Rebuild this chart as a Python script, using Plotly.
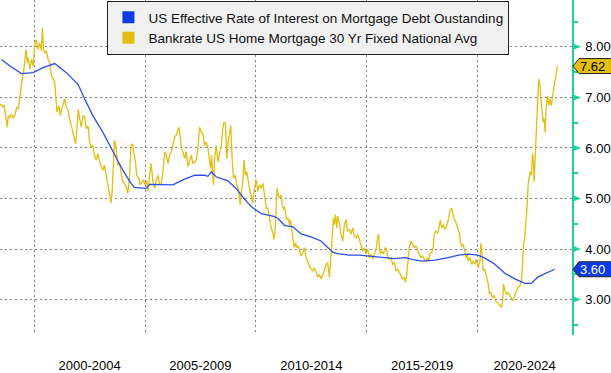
import plotly.graph_objects as go

# ---------------- data ----------------
bankrate_years = [
    1998.46, 1998.58, 1998.64, 1998.73, 1998.79, 1998.83, 1998.91, 1998.98, 1999.06, 1999.13,
    1999.21, 1999.28, 1999.36, 1999.43, 1999.48, 1999.54, 1999.63, 1999.69, 1999.73, 1999.81,
    1999.88, 1999.96, 2000.03, 2000.10, 2000.18, 2000.25, 2000.33, 2000.37, 2000.43, 2000.48,
    2000.55, 2000.63, 2000.70, 2000.78, 2000.85, 2000.93, 2000.97, 2001.03, 2001.12, 2001.18,
    2001.23, 2001.30, 2001.38, 2001.45, 2001.53, 2001.60, 2001.68, 2001.75, 2001.83, 2001.87,
    2001.93, 2001.99, 2002.05, 2002.13, 2002.20, 2002.28, 2002.35, 2002.43, 2002.50, 2002.57,
    2002.65, 2002.72, 2002.80, 2002.87, 2002.95, 2003.02, 2003.10, 2003.17, 2003.25, 2003.32,
    2003.40, 2003.47, 2003.52, 2003.58, 2003.62, 2003.67, 2003.73, 2003.77, 2003.85, 2003.92,
    2004.00, 2004.07, 2004.15, 2004.22, 2004.30, 2004.37, 2004.45, 2004.49, 2004.57, 2004.63,
    2004.72, 2004.78, 2004.87, 2004.93, 2005.01, 2005.08,
    2005.14, 2005.21, 2005.26, 2005.30, 2005.36, 2005.44, 2005.51, 2005.59, 2005.66, 2005.74,
    2005.81, 2005.89, 2005.96, 2006.04, 2006.11, 2006.19, 2006.26, 2006.34, 2006.41, 2006.49,
    2006.53, 2006.59, 2006.65, 2006.71, 2006.79, 2006.86, 2006.94, 2007.01, 2007.09, 2007.16,
    2007.24, 2007.31, 2007.39, 2007.46, 2007.54, 2007.61, 2007.69, 2007.76, 2007.84, 2007.91,
    2007.96, 2008.00, 2008.06, 2008.09, 2008.14, 2008.21, 2008.29, 2008.36, 2008.44, 2008.51,
    2008.56, 2008.63, 2008.69, 2008.75, 2008.81, 2008.87, 2008.93, 2008.99, 2009.07, 2009.14,
    2009.22, 2009.29, 2009.35, 2009.41, 2009.47, 2009.53, 2009.59, 2009.65, 2009.71, 2009.79,
    2009.86, 2009.94, 2010.02, 2010.09, 2010.17, 2010.24, 2010.32, 2010.39, 2010.47, 2010.54,
    2010.62, 2010.69, 2010.77, 2010.81, 2010.86, 2010.92, 2010.96, 2011.01, 2011.07,
    2011.11, 2011.14, 2011.19, 2011.25, 2011.29, 2011.34, 2011.40, 2011.46, 2011.52, 2011.56,
    2011.61, 2011.67, 2011.73, 2011.79, 2011.85, 2011.91, 2011.97, 2012.04, 2012.12, 2012.19,
    2012.27, 2012.34, 2012.42, 2012.49, 2012.57, 2012.64, 2012.72, 2012.79, 2012.87, 2012.94,
    2013.02, 2013.09, 2013.17, 2013.24, 2013.32, 2013.39, 2013.44, 2013.50, 2013.54, 2013.59,
    2013.65, 2013.69, 2013.77, 2013.84, 2013.92, 2013.99, 2014.07, 2014.14, 2014.22, 2014.29,
    2014.37, 2014.44, 2014.52, 2014.59, 2014.67, 2014.74, 2014.82, 2014.89, 2014.97, 2015.05,
    2015.12, 2015.20, 2015.27, 2015.35, 2015.42, 2015.50, 2015.54, 2015.57, 2015.62, 2015.68,
    2015.75, 2015.84, 2015.90, 2015.96, 2016.02, 2016.10, 2016.17, 2016.25, 2016.32, 2016.40,
    2016.47, 2016.55, 2016.62, 2016.70, 2016.74, 2016.80, 2016.86, 2016.92, 2017.00, 2017.07,
    2017.15, 2017.22, 2017.30, 2017.37, 2017.45, 2017.52, 2017.60, 2017.67, 2017.75,
    2017.78, 2017.85, 2017.93, 2018.00, 2018.05, 2018.11, 2018.20, 2018.26, 2018.32, 2018.38,
    2018.45, 2018.53, 2018.60, 2018.68, 2018.75, 2018.83, 2018.87, 2018.93, 2019.01, 2019.07,
    2019.13, 2019.19, 2019.23, 2019.28, 2019.35, 2019.43, 2019.47, 2019.53, 2019.58, 2019.65,
    2019.73, 2019.80, 2019.88, 2019.95, 2020.03, 2020.11, 2020.15, 2020.20, 2020.26, 2020.33,
    2020.41, 2020.48, 2020.53, 2020.60, 2020.66, 2020.75, 2020.81, 2020.87, 2020.93, 2021.01,
    2021.08, 2021.13, 2021.17, 2021.23, 2021.31, 2021.38, 2021.46, 2021.53, 2021.59, 2021.65,
    2021.71, 2021.77, 2021.83, 2021.91, 2021.98, 2022.03, 2022.07, 2022.13, 2022.19, 2022.25,
    2022.28, 2022.33, 2022.37, 2022.43, 2022.48, 2022.52, 2022.55, 2022.61, 2022.66, 2022.70,
    2022.76, 2022.82, 2022.87, 2022.91, 2022.96, 2023.00, 2023.05, 2023.09, 2023.15, 2023.21,
    2023.27, 2023.33, 2023.39, 2023.45, 2023.51, 2023.56, 2023.60,
]
bankrate_rates = [
    6.87, 6.82, 6.85, 6.58, 6.41, 6.64, 6.60, 6.67, 6.59, 6.64,
    6.80, 6.77, 7.07, 7.36, 7.42, 7.56, 7.95, 7.69, 7.78, 7.56,
    7.75, 7.62, 8.05, 8.14, 7.95, 8.08, 7.92, 8.37, 7.95, 7.88,
    7.92, 7.75, 7.69, 7.42, 7.39, 7.29, 7.00, 6.71, 6.84, 6.64,
    6.74, 6.87, 6.97, 6.80, 6.74, 6.58, 6.44, 6.31, 6.15, 6.08,
    6.38, 6.77, 6.58, 6.41, 6.64, 6.61, 6.38, 6.44, 6.12, 6.02,
    6.05, 5.86, 5.76, 5.89, 5.73, 5.63, 5.56, 5.66, 5.46, 5.33,
    5.14, 4.91, 5.14, 5.92, 6.15, 6.08, 5.79, 5.66, 5.69, 5.53,
    5.33, 5.30, 5.24, 5.10, 5.40, 6.05, 6.08, 5.92, 5.73, 5.46,
    5.40, 5.27, 5.33, 5.37, 5.27, 5.35,
    5.14, 5.46, 5.69, 5.59, 5.33, 5.20, 5.37, 5.46, 5.27, 5.30,
    5.53, 5.92, 5.86, 5.69, 5.86, 5.92, 6.05, 6.22, 6.25, 6.38,
    6.41, 6.22, 5.99, 5.92, 5.79, 5.92, 5.63, 5.73, 5.86, 5.69,
    5.73, 5.76, 5.99, 6.41, 6.31, 6.28, 6.05, 6.12, 5.99, 5.73,
    5.59, 5.86, 5.37, 5.27, 5.79, 6.05, 5.73, 5.86, 6.05, 6.38,
    6.51, 6.48, 5.79, 6.12, 6.25, 6.44, 5.79, 5.40, 5.46, 5.27,
    5.17, 4.88, 5.14, 5.33, 5.76, 5.46, 5.53, 5.33, 5.20, 5.07,
    4.91, 5.20, 5.37, 5.14, 5.27, 5.20, 5.30, 5.07, 4.81, 4.81,
    4.55, 4.42, 4.32, 4.19, 4.29, 4.81, 5.20, 5.07, 5.01,
    5.04, 5.07, 4.88, 4.78, 4.84, 4.75, 4.58, 4.61, 4.48, 4.58,
    4.42, 4.25, 4.03, 4.12, 4.03, 4.06, 3.96, 3.86, 3.93, 4.03,
    3.83, 3.76, 3.70, 3.60, 3.57, 3.63, 3.54, 3.44, 3.50, 3.41,
    3.50, 3.57, 3.70, 3.73, 3.44, 3.83, 4.16, 4.61, 4.48, 4.68,
    4.42, 4.65, 4.52, 4.29, 4.16, 4.48, 4.58, 4.35, 4.39, 4.29,
    4.42, 4.25, 4.22, 4.29, 4.19, 4.06, 3.96, 4.03, 3.90, 3.99,
    3.83, 3.90, 3.80, 3.90, 3.99, 4.25, 4.29, 4.03, 3.90, 3.96,
    3.90, 4.03, 3.99, 3.83, 3.80, 3.83, 3.70, 3.73, 3.57, 3.60,
    3.54, 3.50, 3.41, 3.44, 3.34, 3.47, 3.76, 4.03, 4.16, 4.09,
    4.03, 4.06, 3.96, 3.90, 3.83, 3.86, 3.80, 3.76, 3.83,
    3.76, 3.90, 3.93, 4.03, 4.29, 4.35, 4.32, 4.42, 4.58, 4.42,
    4.48, 4.39, 4.45, 4.58, 4.75, 4.81, 4.71, 4.61, 4.55, 4.45,
    4.35, 4.29, 4.12, 4.06, 4.09, 3.96, 3.83, 3.90, 3.76, 3.83,
    3.70, 3.76, 3.70, 3.80, 3.63, 3.76, 4.12, 3.93, 3.57, 3.60,
    3.44, 3.31, 3.11, 3.14, 3.05, 3.08, 2.98, 2.95, 2.92, 2.88,
    2.85, 2.98, 3.31, 3.18, 3.11, 3.14, 3.08, 3.01, 2.98, 3.05,
    3.11, 3.18, 3.24, 3.27, 3.37, 3.70, 4.09, 4.22, 4.55, 4.94,
    5.27, 5.46, 5.53, 5.46, 5.89, 5.73, 5.33, 5.92, 6.31, 6.84,
    7.36, 7.23, 6.90, 6.64, 6.51, 6.58, 6.31, 6.77, 7.03, 6.84,
    6.97, 6.84, 7.10, 7.23, 7.36, 7.49, 7.62,
]

effective_years = [
    1998.53, 1998.91, 1999.43, 1999.96, 2000.40, 2000.93, 2001.45, 2001.98, 2002.28, 2002.65,
    2003.10, 2003.40, 2003.62, 2004.00, 2004.37, 2004.52, 2005.04, 2005.21, 2006.26, 2006.71,
    2007.24, 2007.69, 2007.84, 2007.99, 2008.21, 2008.74, 2009.11, 2009.41, 2009.79, 2010.24,
    2010.77, 2010.99, 2011.29, 2011.67, 2012.04, 2012.49, 2012.94, 2013.24, 2013.47, 2013.69,
    2014.22, 2014.67, 2015.12, 2015.57, 2016.02, 2016.25, 2016.77, 2017.07, 2017.52, 2018.08,
    2018.68, 2019.13, 2019.58, 2020.03, 2020.33, 2020.78, 2021.23, 2021.68, 2022.13, 2022.43,
    2022.73, 2023.11, 2023.48,
]
effective_rates = [
    7.75, 7.62, 7.47, 7.49, 7.59, 7.67, 7.49, 7.26, 6.97, 6.64,
    6.31, 6.05, 5.86, 5.56, 5.30, 5.22, 5.20, 5.28, 5.27, 5.37,
    5.46, 5.46, 5.44, 5.53, 5.43, 5.35, 5.20, 5.03, 4.84, 4.70,
    4.65, 4.61, 4.47, 4.44, 4.30, 4.24, 4.16, 4.03, 3.94, 3.91,
    3.88, 3.88, 3.86, 3.83, 3.81, 3.81, 3.83, 3.79, 3.76, 3.78,
    3.83, 3.88, 3.90, 3.88, 3.82, 3.70, 3.52, 3.41, 3.32, 3.32,
    3.45, 3.52, 3.60,
]

period_labels = ["2000-2004", "2005-2009", "2010-2014", "2015-2019", "2020-2024"]
period_centers = [2002.5, 2007.5, 2012.5, 2017.5, 2022.12]
period_bounds = [2000, 2005, 2010, 2015, 2020]
y_major = [3, 4, 5, 6, 7, 8]
y_minor = [2.5, 3.5, 4.5, 5.5, 6.5, 7.5, 8.5]

series_names = [
    "US Effective Rate of Interest on Mortgage Debt Oustanding",
    "Bankrate US Home Mortgage 30 Yr Fixed National Avg",
]

# ---------------- style ----------------
YELLOW = "#e2bd12"
BLUE = "#2b4ee6"
BLUE_TAG = "#0c3ce8"
TEAL = "#1fcf9c"
GRID = "#808080"
FONT = "Liberation Sans, Arial, sans-serif"

fig = go.Figure()

fig.add_trace(go.Scatter(
    x=bankrate_years, y=bankrate_rates, mode="lines",
    line=dict(color=YELLOW, width=1.3), showlegend=False, name=series_names[1],
))
fig.add_trace(go.Scatter(
    x=effective_years, y=effective_rates, mode="lines",
    line=dict(color=BLUE, width=1.3), showlegend=False, name=series_names[0],
))

# legend entries with square swatches
for nm, col in [(series_names[0], BLUE_TAG), (series_names[1], YELLOW)]:
    fig.add_trace(go.Scatter(
        x=[None], y=[None], mode="markers", name=nm,
        marker=dict(symbol="square", size=12, color=col),
    ))

# tick arrow heads on the right axis
shapes = []
for v in y_major:
    shapes.append(dict(
        type="path", xref="paper", yref="y", xsizemode="pixel", ysizemode="pixel",
        xanchor=1, yanchor=v, path="M0,-3.5 L9,0 L0,3.5 Z",
        fillcolor=TEAL, line=dict(width=0),
    ))

# last-value tags
for val, fill in [(bankrate_rates[-1], YELLOW), (effective_rates[-1], BLUE_TAG)]:
    shapes.append(dict(
        type="path", xref="paper", yref="y", xsizemode="pixel", ysizemode="pixel",
        xanchor=1, yanchor=val, path="M1,0 L7,7.5 L45,7.5 L45,-7.5 L7,-7.5 Z",
        fillcolor=fill, line=dict(color="#222222", width=1),
    ))

annotations = []
for val, txtcol in [(bankrate_rates[-1], "black"), (effective_rates[-1], "white")]:
    annotations.append(dict(
        x=1, xref="paper", y=val, yref="y", xanchor="left", yanchor="middle",
        xshift=6, text=f"{val:.2f}", showarrow=False,
        font=dict(family=FONT, size=13, color=txtcol),
    ))

fig.update_layout(
    width=611, height=373,
    margin=dict(l=0, r=36, t=0, b=35),
    paper_bgcolor="white", plot_bgcolor="white",
    font=dict(family=FONT, size=13, color="black"),
    shapes=shapes, annotations=annotations,
    legend=dict(
        x=108 / 575, y=0.997, xanchor="left", yanchor="top",
        bgcolor="#f0f0f0", bordercolor="#222222", borderwidth=1,
        font=dict(family=FONT, size=13.5, color="#111111"),
        tracegroupgap=0, itemsizing="constant",
    ),
    xaxis=dict(
        range=[1998.46, 2024.26],
        tickmode="array", tickvals=period_centers, ticktext=period_labels,
        ticks="outside", ticklen=18, tickcolor="rgba(0,0,0,0)",
        showgrid=False, zeroline=False, showline=False,
        tickfont=dict(family=FONT, size=13, color="black"),
        minor=dict(tickmode="array", tickvals=period_bounds, showgrid=True,
                   gridcolor=GRID, gridwidth=1, griddash="2px,3px", ticks=""),
    ),
    yaxis=dict(
        side="right", range=[2.30, 8.927],
        tickmode="array", tickvals=y_major, tickformat=".2f",
        ticks="outside", ticklen=9, tickcolor="rgba(0,0,0,0)",
        showline=True, linecolor=TEAL, linewidth=1.5,
        showgrid=True, gridcolor=GRID, gridwidth=1, griddash="2px,3px",
        zeroline=False,
        tickfont=dict(family=FONT, size=13, color="black"),
        minor=dict(tickmode="array", tickvals=y_minor, ticks="outside",
                   ticklen=4, tickwidth=1.5, tickcolor=TEAL, showgrid=False),
    ),
)

fig.write_html("out.html", config={"displayModeBar": False},
               post_script="document.body.style.margin='0';")
